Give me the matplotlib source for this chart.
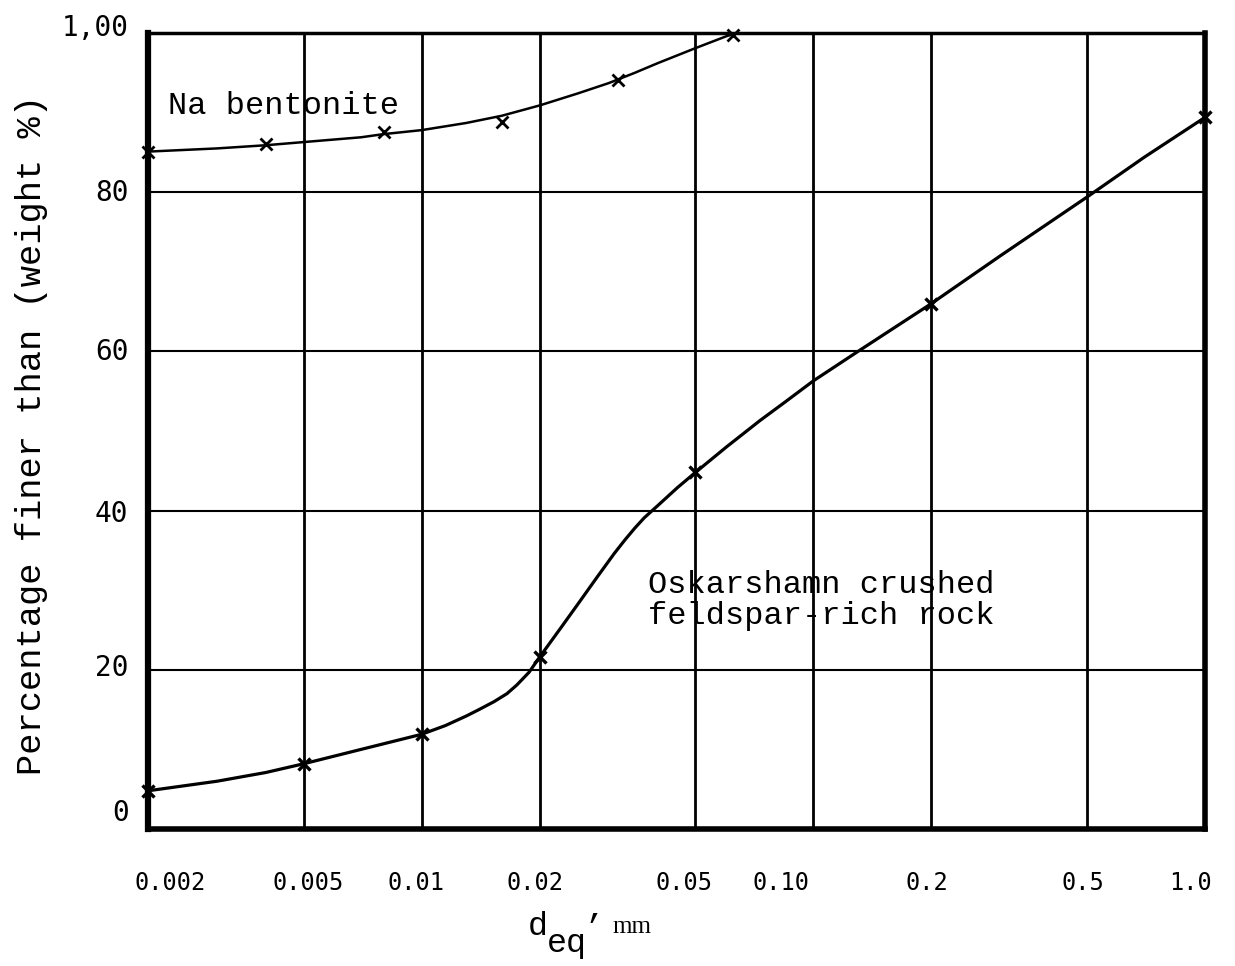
import matplotlib
matplotlib.use("Agg")
import matplotlib.pyplot as plt
from matplotlib.transforms import ScaledTranslation

# ---- data ----
tick_values = [0.002, 0.005, 0.01, 0.02, 0.05, 0.10, 0.2, 0.5, 1.0]
tick_labels = ["0.002", "0.005", "0.01", "0.02", "0.05", "0.10", "0.2", "0.5", "1.0"]
ytick_values = [0, 20, 40, 60, 80, 100]
ytick_labels = ["0", "20", "40", "60", "80", "1,00"]

# Na bentonite: measured points (x markers) and traced curve
na_x = [0.002, 0.004, 0.008, 0.016, 0.0317, 0.0623]
na_y = [85.1, 86.1, 87.6, 88.8, 94.1, 99.7]
na_curve_x = [0.002, 0.003, 0.004, 0.005, 0.007, 0.008, 0.01, 0.013, 0.016,
              0.02, 0.025, 0.03, 0.035, 0.04, 0.05, 0.06, 0.064]
na_curve_y = [85.1, 85.5, 85.9, 86.3, 86.9, 87.3, 87.8, 88.7, 89.6,
              90.9, 92.4, 93.7, 95.0, 96.2, 98.1, 99.6, 100.0]

# Oskarshamn crushed feldspar-rich rock
ok_x = [0.002, 0.005, 0.01, 0.02, 0.05, 0.2, 1.0]
ok_y = [4.8, 8.2, 11.9, 21.6, 44.8, 66.0, 89.4]
ok_curve_x = [0.002, 0.003, 0.004, 0.005, 0.007, 0.01, 0.0115, 0.013, 0.014,
              0.0153, 0.0165, 0.0175, 0.0188, 0.02, 0.0226, 0.025, 0.028,
              0.031, 0.033, 0.035, 0.037, 0.04, 0.045, 0.05, 0.06, 0.073,
              0.085, 0.1, 0.13, 0.2, 0.3, 0.5, 0.7, 1.0]
ok_curve_y = [4.8, 6.0, 7.1, 8.2, 10.0, 11.9, 13.0, 14.2, 15.0,
              16.0, 17.0, 18.1, 19.7, 21.6, 25.2, 28.2, 31.6,
              34.6, 36.3, 37.8, 39.1, 40.6, 42.9, 44.8, 48.0, 51.3,
              53.7, 56.3, 60.0, 66.0, 72.0, 79.4, 84.4, 89.4]

# typed-label offsets (pixels) relative to the grid lines
xlabel_dx = [22, 4, -6, -5, -11, -32, -4, -4, -15]
ylabel_dy = [19, 5, 0, 2, 2, 8]

mono = "DejaVu Sans Mono"
typew = "Liberation Mono"

fig = plt.figure(figsize=(12.35, 9.66), dpi=100)
ax = fig.add_axes([148/1235, 1 - 829/966, (1205-148)/1235, (829-33)/966])

ax.set_xscale("log")
ax.set_xlim(0.002, 1.0)
ax.set_ylim(0, 100)

# grid
for xv in tick_values:
    ax.axvline(xv, color="black", lw=2.0, zorder=1)
for yv in ytick_values[1:-1]:
    ax.axhline(yv, color="black", lw=1.5, zorder=1)

for side, lw in [("left", 4.5), ("bottom", 4.0), ("right", 4.0), ("top", 2.5)]:
    ax.spines[side].set_linewidth(lw)
    ax.spines[side].set_color("black")

ax.plot(na_curve_x, na_curve_y, color="black", lw=1.8, zorder=3, clip_on=False,
        solid_joinstyle="round")
ax.plot(na_x, na_y, linestyle="none", marker="x", color="black", ms=8, mew=2, zorder=4, clip_on=False)
ax.plot(ok_curve_x, ok_curve_y, color="black", lw=2.3, zorder=3, clip_on=False,
        solid_joinstyle="round")
ax.plot(ok_x, ok_y, linestyle="none", marker="x", color="black", ms=9, mew=2.4, zorder=4, clip_on=False)

ax.set_xticks(tick_values)
ax.set_xticklabels(tick_labels, fontfamily=mono, fontsize=17)
ax.minorticks_off()
ax.set_yticks(ytick_values)
ax.set_yticklabels(ytick_labels, fontfamily=mono, fontsize=20)
ax.tick_params(axis="x", length=0, pad=30)
ax.tick_params(axis="y", length=0, pad=14)

for lab, dx in zip(ax.get_xticklabels(), xlabel_dx):
    lab.set_transform(lab.get_transform() + ScaledTranslation(dx/100, 0, fig.dpi_scale_trans))
for lab, dy in zip(ax.get_yticklabels(), ylabel_dy):
    lab.set_transform(lab.get_transform() + ScaledTranslation(0, dy/100, fig.dpi_scale_trans))

ax.set_ylabel("Percentage finer than (weight %)", fontfamily=typew, fontsize=25.5)
ax.yaxis.set_label_coords(-0.0946, 0.495)

ax.text(0.00225, 90.8, "Na bentonite", fontfamily=typew, fontsize=23, va="center", ha="left", zorder=5)
ax.text(0.0378, 32.6, "Oskarshamn crushed\nfeldspar-rich rock", fontfamily=typew, fontsize=23,
        va="top", ha="left", linespacing=1.07, zorder=5)

# x axis label: d_eq, mm
fig.text(528/1235, 1 - 935/966, "d", fontfamily=typew, fontsize=24, ha="left", va="baseline")
fig.text(547/1235, 1 - 952/966, "eq", fontfamily=typew, fontsize=24, ha="left", va="baseline")
fig.text(584/1235, 1 - 937/966, "\u2019", fontfamily=typew, fontsize=24, ha="left", va="baseline")
fig.text(612/1235, 1 - 933/966, "mm", fontfamily="Liberation Serif", fontsize=18, ha="left", va="baseline")

fig.savefig("out.png", dpi=100)
